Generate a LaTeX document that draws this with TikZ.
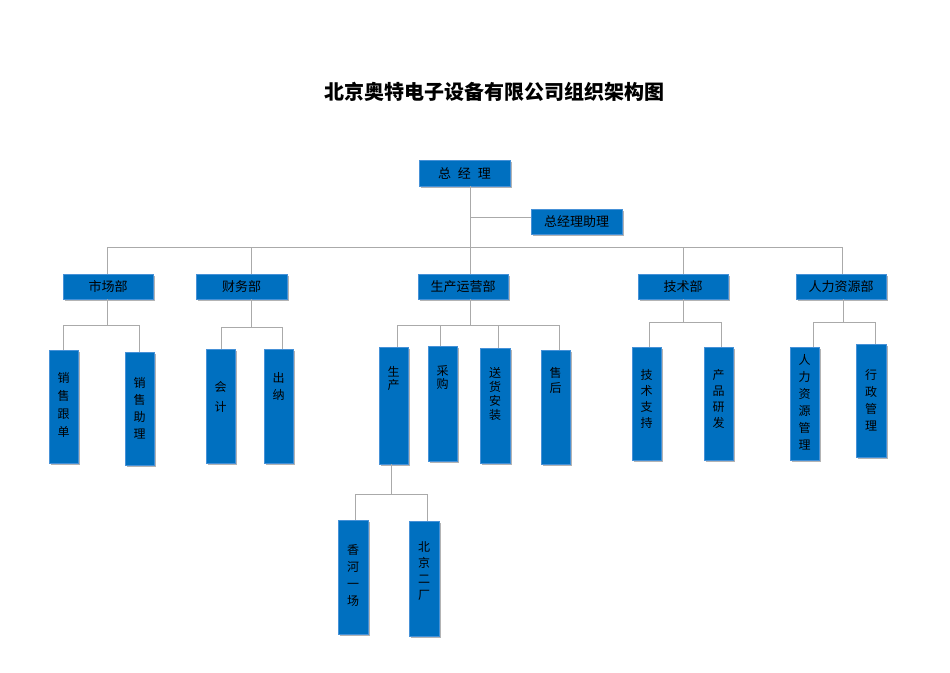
\documentclass[tikz,border=0pt]{standalone}
\usepackage{fontspec}
\setmainfont{Noto Sans CJK SC}
\usetikzlibrary{shadows}
\definecolor{boxblue}{RGB}{0,112,192}
\definecolor{boxedge}{RGB}{70,145,215}
\definecolor{linegray}{RGB}{170,170,170}
\begin{document}
\begin{tikzpicture}[x=1pt,y=-1pt,
  box/.style={rectangle, fill=boxblue, draw=boxedge, line width=0.4pt, inner sep=0pt,
    drop shadow={shadow xshift=1.8pt, shadow yshift=-1.8pt, fill=black!50, opacity=0.6}},
  hbox/.style={box, minimum width=90pt, minimum height=25pt, font=\fontsize{13}{13}\selectfont},
  vbox/.style n args={5}{box, minimum width=#1pt, minimum height=#2pt,
    label={[anchor=north, yshift={(6-#3)*1pt}, inner sep=0pt, align=center,
      font=\fontsize{12}{#4}\selectfont]north:#5}},
  conn/.style={draw=linegray, line width=0.8pt}]
\useasboundingbox (0,0) rectangle (950,672);

\node[font=\fontsize{20}{20}\selectfont\bfseries] (title) at (494,92) {北京奥特电子设备有限公司组织架构图};

% level 0/1
\node[hbox, minimum width=91pt, minimum height=26pt] (gm) at (464.5,173) {总\hspace{7pt}经\hspace{7pt}理};
\node[hbox, minimum width=91pt] (asst) at (576.5,221.5) {总经理助理};
\node[hbox] (mkt) at (108,286.5) {市场部};
\node[hbox, minimum width=91pt] (fin) at (241.5,286.5) {财务部};
\node[hbox] (ops) at (463,286.5) {生产运营部};
\node[hbox] (tech) at (683,286.5) {技术部};
\node[hbox] (hr) at (841,286.5) {人力资源部};

% level 2
\node[vbox={29}{113}{28}{18}{销\\售\\跟\\单}] (xsgd) at (63.5,406.5) {};
\node[vbox={29}{113}{31}{17}{销\\售\\助\\理}] (xszl) at (139.5,408.5) {};
\node[vbox={29}{114}{38}{20}{会\\计}] (kj) at (220.5,406) {};
\node[vbox={29}{114}{29}{17}{出\\纳}] (cn) at (278.5,406) {};
\node[vbox={29}{117}{25}{13}{生\\产}] (sc) at (393.5,405.5) {};
\node[vbox={29}{115}{26}{13}{采\\购}] (cg) at (442.5,403.5) {};
\node[vbox={30}{115}{25}{14}{送\\货\\安\\装}] (shaz) at (495,405.5) {};
\node[vbox={29}{114}{23}{15}{售\\后}] (sh) at (555.5,407) {};
\node[vbox={29}{113}{28}{16}{技\\术\\支\\持}] (jszc) at (646.5,403.5) {};
\node[vbox={29}{113}{28}{16}{产\\品\\研\\发}] (cpyf) at (718.5,403.5) {};
\node[vbox={29}{113}{13}{17}{人\\力\\资\\源\\管\\理}] (rlzy) at (804.5,403.5) {};
\node[vbox={30}{113}{31}{17}{行\\政\\管\\理}] (xzgl) at (871,400.5) {};

% level 3
\node[vbox={30}{114}{30}{17}{香\\河\\一\\场}] (xh) at (353,577) {};
\node[vbox={30}{115}{27}{16}{北\\京\\二\\厂}] (bj) at (424,578.5) {};

% connectors: top
\coordinate (jm) at (470,247);
\coordinate (ja) at (470,217);
\draw[conn] (gm.south -| jm) -- (ops.north -| jm);
\draw[conn] (ja) -- (ja -| asst.west);
\coordinate (tL) at (107,247);
\coordinate (tF) at (251,247);
\coordinate (tT) at (683,247);
\coordinate (tR) at (842,247);
\draw[conn] (tL) -- (tR);
\draw[conn] (tL) -- (tL |- mkt.north);
\draw[conn] (tF) -- (tF |- fin.north);
\draw[conn] (tT) -- (tT |- tech.north);
\draw[conn] (tR) -- (tR |- hr.north);

% market
\coordinate (mJ) at (107,325);
\coordinate (mL) at (63.5,325);
\coordinate (mR) at (139,325);
\draw[conn] (mkt.south -| mJ) -- (mJ);
\draw[conn] (mL) -- (mR);
\draw[conn] (mL) -- (mL |- xsgd.north);
\draw[conn] (mR) -- (mR |- xszl.north);

% finance
\coordinate (fJ) at (251,327);
\coordinate (fL) at (221,327);
\coordinate (fR) at (282,327);
\draw[conn] (fin.south -| fJ) -- (fJ);
\draw[conn] (fL) -- (fR);
\draw[conn] (fL) -- (fL |- kj.north);
\draw[conn] (fR) -- (fR |- cn.north);

% operations
\coordinate (oJ) at (470,325);
\coordinate (o1) at (397,325);
\coordinate (o2) at (440,325);
\coordinate (o3) at (498,325);
\coordinate (o4) at (559,325);
\draw[conn] (ops.south -| oJ) -- (oJ);
\draw[conn] (o1) -- (o4);
\draw[conn] (o1) -- (o1 |- sc.north);
\draw[conn] (o2) -- (o2 |- cg.north);
\draw[conn] (o3) -- (o3 |- shaz.north);
\draw[conn] (o4) -- (o4 |- sh.north);

% production
\coordinate (pJ) at (391,494);
\coordinate (pL) at (355,494);
\coordinate (pR) at (427,494);
\draw[conn] (sc.south -| pJ) -- (pJ);
\draw[conn] (pL) -- (pR);
\draw[conn] (pL) -- (pL |- xh.north);
\draw[conn] (pR) -- (pR |- bj.north);

% tech
\coordinate (tJ) at (683,322);
\coordinate (tcL) at (649,322);
\coordinate (tcR) at (721,322);
\draw[conn] (tech.south -| tJ) -- (tJ);
\draw[conn] (tcL) -- (tcR);
\draw[conn] (tcL) -- (tcL |- jszc.north);
\draw[conn] (tcR) -- (tcR |- cpyf.north);

% hr
\coordinate (hJ) at (843,322);
\coordinate (hL) at (813,322);
\coordinate (hR) at (875,322);
\draw[conn] (hr.south -| hJ) -- (hJ);
\draw[conn] (hL) -- (hR);
\draw[conn] (hL) -- (hL |- rlzy.north);
\draw[conn] (hR) -- (hR |- xzgl.north);
\end{tikzpicture}
\end{document}
